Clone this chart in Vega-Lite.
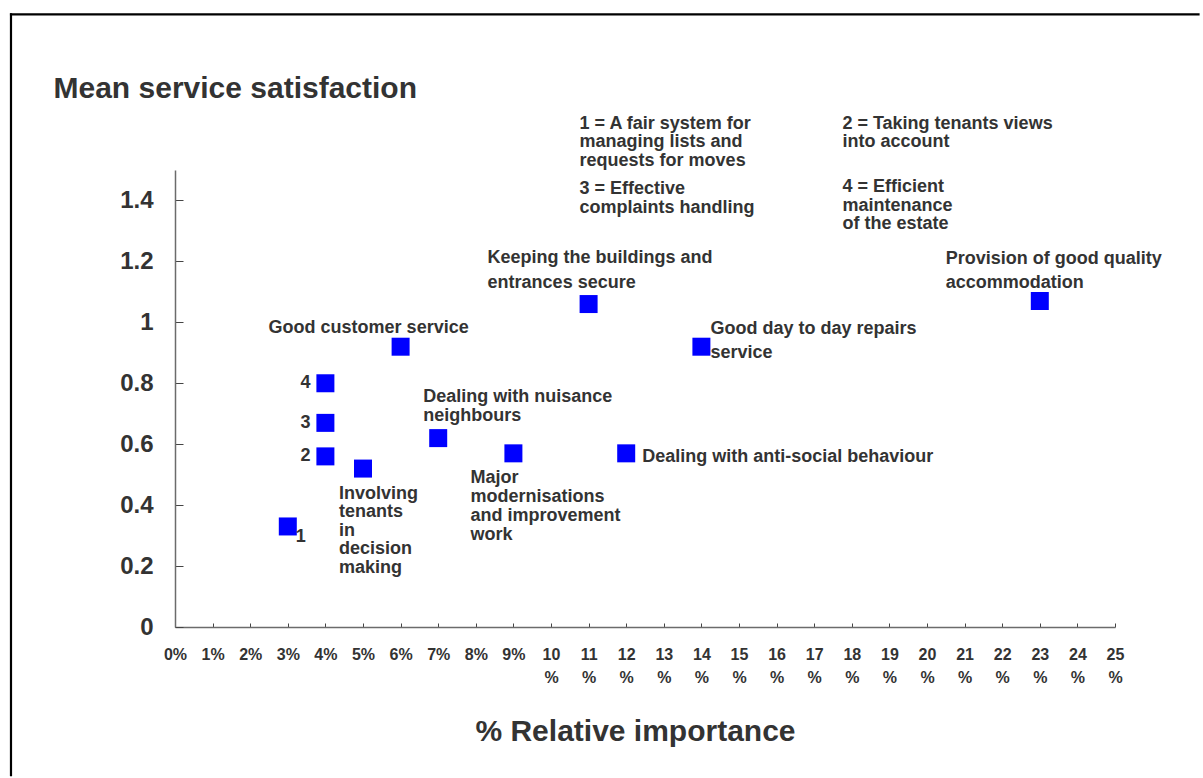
{
  "$schema": "https://vega.github.io/schema/vega-lite/v6.json",
  "width": 940,
  "height": 457,
  "autosize": {"type": "none"},
  "padding": {"left": 175, "top": 170, "right": 88, "bottom": 151},
  "background": "white",
  "config": {
    "view": {"stroke": null},
    "font": "Liberation Sans",
    "text": {"font": "Liberation Sans", "fontSize": 18, "fontWeight": "bold", "color": "#333333", "baseline": "alphabetic", "align": "left"}
  },
  "resolve": {"axis": {"x": "independent", "y": "independent"}},
  "layer": [
    {
      "data": {"values": [{"frame": "top border"}]},
      "mark": {"type": "rule", "stroke": "#000000", "strokeWidth": 2.2, "strokeCap": "butt"},
      "encoding": {
        "x": {"datum": -4.39, "type": "quantitative", "axis": null},
        "x2": {"datum": 27.25},
        "y": {"datum": 2.011, "type": "quantitative", "axis": null}
      }
    },
    {
      "data": {"values": [{"frame": "left border"}]},
      "mark": {"type": "rule", "stroke": "#000000", "strokeWidth": 2.2, "strokeCap": "butt"},
      "encoding": {
        "x": {"datum": -4.362, "type": "quantitative", "axis": null},
        "y": {"datum": 2.0146, "type": "quantitative", "axis": null},
        "y2": {"datum": -0.49}
      }
    },
    {
      "data": {
        "values": [
          {"code": "1", "name": "A fair system for managing lists and requests for moves", "importance": 3, "satisfaction": 0.33, "label": "1"},
          {"code": "2", "name": "Taking tenants views into account", "importance": 4, "satisfaction": 0.56, "label": "2"},
          {"code": "3", "name": "Effective complaints handling", "importance": 4, "satisfaction": 0.67, "label": "3"},
          {"code": "4", "name": "Efficient maintenance of the estate", "importance": 4, "satisfaction": 0.80, "label": "4"},
          {"code": "inv", "name": "Involving tenants in decision making", "importance": 5, "satisfaction": 0.52, "label": ["Involving", "tenants", "in", "decision", "making"]},
          {"code": "gcs", "name": "Good customer service", "importance": 6, "satisfaction": 0.92, "label": "Good customer service"},
          {"code": "nui", "name": "Dealing with nuisance neighbours", "importance": 7, "satisfaction": 0.62, "label": ["Dealing with nuisance", "neighbours"]},
          {"code": "maj", "name": "Major modernisations and improvement work", "importance": 9, "satisfaction": 0.57, "label": ["Major", "modernisations", "and improvement", "work"]},
          {"code": "kee", "name": "Keeping the buildings and entrances secure", "importance": 11, "satisfaction": 1.06, "label": ["Keeping the buildings and", "entrances secure"]},
          {"code": "asb", "name": "Dealing with anti-social behaviour", "importance": 12, "satisfaction": 0.57, "label": "Dealing with anti-social behaviour"},
          {"code": "rep", "name": "Good day to day repairs service", "importance": 14, "satisfaction": 0.92, "label": ["Good day to day repairs", "service"]},
          {"code": "pro", "name": "Provision of good quality accommodation", "importance": 23, "satisfaction": 1.07, "label": ["Provision of good quality", "accommodation"]}
        ]
      },
      "encoding": {
        "x": {
          "field": "importance",
          "type": "quantitative",
          "scale": {"domain": [0, 25], "nice": false, "zero": true},
          "axis": {
            "title": "% Relative importance",
            "titleFont": "Liberation Sans",
            "titleFontSize": 30,
            "titleFontWeight": "bold",
            "titleColor": "#333333",
            "titleBaseline": "alphabetic",
            "titleAlign": "center",
            "titleX": 460,
            "titleY": 113,
            "values": [0, 1, 2, 3, 4, 5, 6, 7, 8, 9, 10, 11, 12, 13, 14, 15, 16, 17, 18, 19, 20, 21, 22, 23, 24, 25],
            "format": "d",
            "labelExpr": "datum.value >= 10 ? [datum.label, '%'] : datum.label + '%'",
            "labelFont": "Liberation Sans",
            "labelFontSize": 16,
            "labelFontWeight": "bold",
            "labelColor": "#333333",
            "labelBaseline": "top",
            "labelLineHeight": 23,
            "labelPadding": 23,
            "labelOverlap": false,
            "labelFlush": false,
            "labelBound": false,
            "tickSize": -4,
            "tickColor": "#444444",
            "tickWidth": 1,
            "domainColor": "#6b6b6b",
            "domainWidth": 1.5,
            "grid": false
          }
        },
        "y": {
          "field": "satisfaction",
          "type": "quantitative",
          "scale": {"domain": [0, 1.5], "nice": false, "zero": true},
          "axis": {
            "title": "Mean service satisfaction",
            "titleFont": "Liberation Sans",
            "titleFontSize": 30,
            "titleFontWeight": "bold",
            "titleColor": "#333333",
            "titleAngle": 0,
            "titleAlign": "left",
            "titleBaseline": "alphabetic",
            "titleX": -122,
            "titleY": -73,
            "values": [0, 0.2, 0.4, 0.6, 0.8, 1, 1.2, 1.4],
            "format": ".1~f",
            "labelFont": "Liberation Sans",
            "labelFontSize": 24,
            "labelFontWeight": "bold",
            "labelColor": "#333333",
            "labelBaseline": "middle",
            "labelPadding": 30,
            "labelOverlap": false,
            "labelFlush": false,
            "tickSize": -8,
            "tickColor": "#444444",
            "tickWidth": 1,
            "domainColor": "#6b6b6b",
            "domainWidth": 1.5,
            "grid": false
          }
        }
      },
      "layer": [
        {
          "mark": {"type": "square", "size": 324, "filled": true, "color": "#0000ff", "opacity": 1}
        },
        {
          "transform": [{"filter": "datum.code == '1'"}],
          "mark": {"type": "text", "dx": 8, "dy": 16},
          "encoding": {"text": {"field": "label"}}
        },
        {
          "transform": [{"filter": "indexof(['2', '3', '4'], datum.code) >= 0"}],
          "mark": {"type": "text", "align": "right", "dx": -15, "dy": 5},
          "encoding": {"text": {"field": "label"}}
        },
        {
          "transform": [{"filter": "datum.code == 'inv'"}],
          "mark": {"type": "text", "dx": -24, "dy": 30, "lineHeight": 18.5},
          "encoding": {"text": {"field": "label"}}
        },
        {
          "transform": [{"filter": "datum.code == 'gcs'"}],
          "mark": {"type": "text", "dx": -132, "dy": -14},
          "encoding": {"text": {"field": "label"}}
        },
        {
          "transform": [{"filter": "datum.code == 'nui'"}],
          "mark": {"type": "text", "dx": -15, "dy": -36, "lineHeight": 19},
          "encoding": {"text": {"field": "label"}}
        },
        {
          "transform": [{"filter": "datum.code == 'maj'"}],
          "mark": {"type": "text", "dx": -43, "dy": 29.5, "lineHeight": 19},
          "encoding": {"text": {"field": "label"}}
        },
        {
          "transform": [{"filter": "datum.code == 'kee'"}],
          "mark": {"type": "text", "dx": -101, "dy": -41, "lineHeight": 25},
          "encoding": {"text": {"field": "label"}}
        },
        {
          "transform": [{"filter": "datum.code == 'asb'"}],
          "mark": {"type": "text", "dx": 16, "dy": 8.5},
          "encoding": {"text": {"field": "label"}}
        },
        {
          "transform": [{"filter": "datum.code == 'rep'"}],
          "mark": {"type": "text", "dx": 9, "dy": -13, "lineHeight": 24},
          "encoding": {"text": {"field": "label"}}
        },
        {
          "transform": [{"filter": "datum.code == 'pro'"}],
          "mark": {"type": "text", "dx": -94, "dy": -37, "lineHeight": 24},
          "encoding": {"text": {"field": "label"}}
        }
      ]
    },
    {
      "data": {"values": [{"note": ["1 = A fair system for", "managing lists and", "requests for moves"]}]},
      "mark": {"type": "text", "lineHeight": 18.5},
      "encoding": {
        "x": {"datum": 10.76, "type": "quantitative", "axis": null},
        "y": {"datum": 1.636, "type": "quantitative", "axis": null},
        "text": {"field": "note"}
      }
    },
    {
      "data": {"values": [{"note": ["3 = Effective", "complaints handling"]}]},
      "mark": {"type": "text", "lineHeight": 18.5},
      "encoding": {
        "x": {"datum": 10.76, "type": "quantitative", "axis": null},
        "y": {"datum": 1.42, "type": "quantitative", "axis": null},
        "text": {"field": "note"}
      }
    },
    {
      "data": {"values": [{"note": ["2 = Taking tenants views", "into account"]}]},
      "mark": {"type": "text", "lineHeight": 18.5},
      "encoding": {
        "x": {"datum": 17.75, "type": "quantitative", "axis": null},
        "y": {"datum": 1.636, "type": "quantitative", "axis": null},
        "text": {"field": "note"}
      }
    },
    {
      "data": {"values": [{"note": ["4 = Efficient", "maintenance", "of the estate"]}]},
      "mark": {"type": "text", "lineHeight": 18.5},
      "encoding": {
        "x": {"datum": 17.75, "type": "quantitative", "axis": null},
        "y": {"datum": 1.427, "type": "quantitative", "axis": null},
        "text": {"field": "note"}
      }
    }
  ]
}
